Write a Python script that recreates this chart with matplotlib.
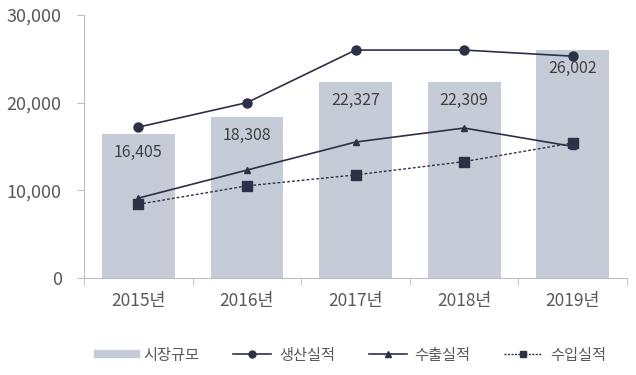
import numpy as np
import matplotlib.pyplot as plt
from matplotlib.lines import Line2D

plt.rcParams['font.family'] = ['Noto Sans CJK KR', 'DejaVu Sans']

years = ['2015년', '2016년', '2017년', '2018년', '2019년']
market = [16405, 18308, 22327, 22309, 26002]
production = [17200, 20000, 26000, 26000, 25300]
exports = [9100, 12300, 15500, 17100, 15000]
imports = [8400, 10500, 11750, 13270, 15400]

bar_color = '#c5cbd7'
line_color = '#2c3147'
text_color = '#595959'
spine_color = '#bfbfbf'


def main():
    fig = plt.figure(figsize=(6.36, 3.75), dpi=100)
    ax = fig.add_axes([0.132, 0.259, 0.854, 0.701])
    x = np.arange(len(years))

    ax.bar(x, market, width=0.67, color=bar_color, zorder=1)
    for xi, v in zip(x, market):
        ax.text(xi, v - 1100, f'{v:,}', ha='center', va='top', fontsize=11.5, color='#404040', zorder=3)

    ax.plot(x, production, '-o', color=line_color, lw=1.2, ms=6.5, zorder=4)
    ax.plot(x, exports, '-^', color=line_color, lw=1.2, ms=5, zorder=4)
    ax.plot(x, imports, linestyle=(0, (2, 1.5)), marker='s', color=line_color, lw=1.0, ms=6.5, zorder=4)

    ax.set_xlim(-0.5, len(years) - 0.5)
    ax.set_ylim(0, 30000)
    ax.set_yticks([0, 10000, 20000, 30000])
    ax.set_yticklabels([f'{t:,}' for t in [0, 10000, 20000, 30000]], fontsize=13, color=text_color)
    ax.set_xticks(x)
    ax.set_xticklabels(years, fontsize=12.5, color=text_color)
    ax.tick_params(axis='x', which='major', length=0, pad=10)
    ax.set_xticks(np.arange(-0.5, len(years)), minor=True)
    ax.tick_params(axis='x', which='minor', length=5, color=spine_color)
    ax.tick_params(axis='y', length=5, color=spine_color, pad=11)

    for s in ['top', 'right']:
        ax.spines[s].set_visible(False)
    ax.spines['left'].set_color(spine_color)
    ax.spines['bottom'].set_color(spine_color)

    handles = [
        Line2D([0], [0], color=bar_color, lw=6),
        Line2D([0], [0], color=line_color, marker='o', lw=1.2, ms=5),
        Line2D([0], [0], color=line_color, marker='^', lw=1.2, ms=4),
        Line2D([0], [0], color=line_color, marker='s', lw=1.0, ms=5, linestyle=(0, (1.5, 1))),
    ]
    labels = ['시장규모', '생산실적', '수출실적', '수입실적']
    fig.legend(handles, labels, loc='center', bbox_to_anchor=(0.553, 0.053), ncol=4, frameon=False,
               fontsize=11, labelcolor=text_color, handlelength=2.5, columnspacing=2.2, handletextpad=0.5)

    fig.savefig('out.png', dpi=100)


if __name__ == "__main__":
    main()
